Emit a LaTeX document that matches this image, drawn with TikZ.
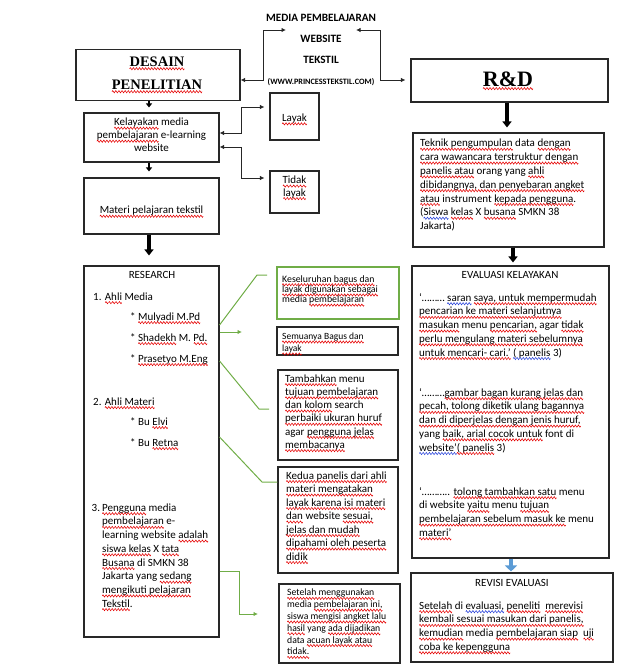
\documentclass[tikz,border=0pt]{standalone}
\usepackage{fontspec}
\setmainfont{Carlito}
\newfontfamily\decofont{Liberation Serif}
\usetikzlibrary{arrows.meta}

\definecolor{accgreen}{RGB}{112,173,71}
\definecolor{accblue}{RGB}{91,155,213}
\definecolor{boxline}{RGB}{40,40,40}

% spell-check style wavy underlines: the text, then a zigzag stroked under it
\newsavebox\wavebox
\newcommand\wavyunder[2]{\sbox\wavebox{#2}\leavevmode\rlap{\usebox\wavebox}%
  \hbox to \wd\wavebox{\xleaders\hbox to 3bp{\special{pdf:content q #1 RG 0.55 w 0 -2.4 m 0.75 -1.3 l 2.25 -3.5 l 3 -2.4 l S Q}\hss}\hfill}}
\newcommand\sq[1]{\wavyunder{0.9 0 0}{#1}}
\newcommand\bq[1]{\wavyunder{0.15 0.25 0.85}{#1}}

\tikzset{
  box/.style={draw=boxline, line width=1.1pt, inner sep=0pt, rectangle},
  gbox/.style={draw=accgreen, line width=1.1pt, inner sep=0pt, rectangle},
  txt/.style={inner sep=0pt, anchor=north west, align=left},
  ctext/.style={inner sep=0pt, align=center},
  conn/.style={draw=black!85, line width=0.9pt},
  dtip/.style={arrows={Latex[length=4.5pt,width=4.5pt]-Latex[length=4.5pt,width=4.5pt]}},
  smallarr/.style={draw=black, line width=1.8pt, -{Triangle[length=4pt,width=6pt]}},
  thickarr/.style={draw=black, line width=3.5pt, -{Triangle[length=6pt,width=9pt]}},
  bluearr/.style={draw=accblue, line width=4.5pt, -{Triangle[length=6pt,width=12pt]}},
  gline/.style={draw=accgreen, line width=1pt},
  gtip/.style={-{Latex[length=4.5pt,width=4.5pt]}}
}

\begin{document}
\begin{tikzpicture}[x=1pt,y=-1pt]
\useasboundingbox (0,0) rectangle (621,666);

% ---------- title ----------
\node[ctext, anchor=north, font=\fontsize{11.2}{21}\selectfont\bfseries] (title) at (321,6.2)
  {\strut MEDIA PEMBELAJARAN\\WEBSITE\\TEKSTIL\\{\fontsize{8.2}{9}\selectfont (WWW.PRINCESSTEKSTIL.COM)}};

% ---------- heading boxes ----------
\node[box, minimum width=164pt, minimum height=51pt] (desain) at (158,75) {};
\node[ctext, font=\decofont\bfseries\fontsize{14.5}{23}\selectfont] (desainT) at (157,73)
  {\sq{DESAIN}\\\sq{PENELITIAN}};
\node[box, minimum width=197pt, minimum height=43pt] (rd) at (509.5,80.5) {};
\node[ctext, font=\decofont\bfseries\fontsize{22}{26}\selectfont] (rdT) at (508,79) {\sq{R\&D}};

\coordinate (tipL) at (286,30);
\coordinate (tipR) at (356,30);
\draw[conn, dtip] (tipL) -| (263,80) -- (desain.east |- 0,80);
\draw[conn, dtip, shorten >=5pt] (tipR) -| (380,80) -- (rd.west |- 0,80);

% ---------- left column ----------
\node[box, minimum width=135pt, minimum height=49pt] (kel) at (151.5,137.5) {};
\node[ctext, font=\fontsize{11}{13}\selectfont] (kelT) at (151.5,135)
  {\sq{Kelayakan} media\\\sq{pembelajaran} e-learning\\website};

\node[box, minimum width=49pt, minimum height=47pt] (layak) at (294.5,116.5) {};
\node[ctext, font=\fontsize{11}{13}\selectfont] (layakT) at (294.5,118.5) {\sq{Layak}};
\node[box, minimum width=49pt, minimum height=42pt] (tidak) at (294.5,192) {};
\node[ctext, font=\fontsize{11}{12.5}\selectfont] (tidakT) at (294.5,187) {\sq{Tidak}\\\sq{layak}};

\draw[conn, dtip, shorten >=5pt] (kel.east |- 0,133) -| (241,107) -- (layak.west |- 0,107);
\draw[conn, dtip, shorten >=5pt] (kel.east |- 0,147) -| (241,178) -- (tidak.west |- 0,178);

\node[box, minimum width=135pt, minimum height=56pt] (materi) at (151.5,206) {};
\node[ctext, font=\fontsize{11}{13}\selectfont] (materiT) at (151.5,211) {\sq{Materi pelajaran tekstil}};

\draw[smallarr, shorten >=5pt] (desain.south -| 149,0) -- (kel.north -| 149,0);
\draw[smallarr, shorten >=6pt] (kel.south -| 149,0) -- (materi.north -| 149,0);

% research box
\node[box, minimum width=135pt, minimum height=371pt] (research) at (151.5,451.5) {};
\draw[thickarr, shorten >=10pt] (materi.south -| 149,0) -- (research.north -| 149,0);

\node[ctext, font=\fontsize{11}{13}\selectfont] (resT) at (152,275) {RESEARCH};
\node[txt, font=\fontsize{11}{13.6}\selectfont] (media1) at (93,290.5) {\strut 1. \sq{Ahli} Media};
\node[txt, font=\fontsize{11}{21}\selectfont] (media2) at (130,305.3)
  {\strut * \sq{Mulyadi M.Pd}\\* \sq{Shadekh} M. \sq{Pd.}\\* \sq{Prasetyo M.Eng}};
\node[txt, font=\fontsize{11}{13.6}\selectfont] (materi1) at (93,395.5) {\strut 2. \sq{Ahli Materi}};
\node[txt, font=\fontsize{11}{21}\selectfont] (materi2) at (130,410.3)
  {\strut * Bu \sq{Elvi}\\* Bu \sq{Retna}};
\node[txt, font=\fontsize{11}{13.7}\selectfont] (user1) at (91.5,501.5) {\strut 3.};
\node[txt, font=\fontsize{11}{13.7}\selectfont] (user2) at (102,501.5)
  {\strut\sq{Pengguna} media\\\sq{pembelajaran} e-\\learning website \sq{adalah}\\\sq{siswa kelas} X \sq{tata}\\
   \sq{Busana} di SMKN 38\\Jakarta yang \sq{sedang}\\\sq{mengikuti pelajaran}\\\sq{Tekstil}.};

% ---------- middle column ----------
\node[gbox, minimum width=122pt, minimum height=52pt] (kes) at (338,293) {};
\node[txt, font=\fontsize{9.8}{10.2}\selectfont] (kesT) at (282,275)
  {\strut\sq{Keseluruhan bagus dan}\\\sq{layak digunakan sebagai}\\media \sq{pembelajaran}};

\node[box, minimum width=121pt, minimum height=28pt] (semua) at (337.5,341) {};
\node[txt, font=\fontsize{9.5}{12}\selectfont] (semuaT) at (282,331)
  {\strut\sq{Semuanya Bagus dan}\\\sq{layak}};

\node[box, minimum width=120pt, minimum height=90pt] (tambah) at (338,415) {};
\node[txt, font=\fontsize{11}{13.2}\selectfont] (tambahT) at (285,372.8)
  {\strut\sq{Tambahkan} menu\\\sq{tujuan pembelajaran}\\\sq{dan kolom} search\\\sq{perbaiki ukuran huruf}\\agar \sq{pengguna jelas}\\\sq{membacanya}};

\node[box, minimum width=120pt, minimum height=106pt] (kedua) at (338,520) {};
\node[txt, font=\fontsize{11}{13.5}\selectfont] (keduaT) at (286,469.5)
  {\strut\sq{Kedua panelis dari ahli}\\\sq{materi mengatakan}\\\sq{layak karena isi materi}\\\sq{dan} website \sq{sesuai,}\\
   \sq{jelas dan mudah}\\\sq{dipahami oleh peserta}\\\sq{didik}};

\node[box, minimum width=121pt, minimum height=79pt] (setelah) at (339.5,623.5) {};
\node[txt, font=\fontsize{9.7}{11.8}\selectfont] (setelahT) at (287,587.5)
  {\strut\sq{Setelah menggunakan}\\media \sq{pembelajaran ini,}\\\sq{siswa mengisi angket lalu}\\\sq{hasil} yang \sq{ada dijadikan}\\
   data \sq{acuan layak atau}\\\sq{tidak.}};

% green links from the research box
\coordinate (g1end) at (267,275);
\coordinate (g2end) at (242,332);
\coordinate (g3end) at (269,409);
\coordinate (g5end) at (258,614);
\draw[gline] (research.east |- 0,325) -- (257,275) -- (g1end);
\draw[gline, gtip] (research.east |- 0,332) -- (g2end);
\draw[gline] (research.east |- 0,361) -- (259,409) -- (g3end);
\draw[gline] (research.east |- 0,437) -- (262,482) -- (kedua.west |- 0,482);
\draw[gline, gtip] (research.east |- 0,571) -| (239,614) -- (g5end);

% ---------- right column ----------
\node[box, minimum width=191pt, minimum height=114pt] (teknik) at (508.5,190) {};
\node[txt, font=\fontsize{11}{13.8}\selectfont] (teknikT) at (420,137)
  {\strut\sq{Teknik pengumpulan} data \sq{dengan}\\\sq{cara wawancara terstruktur dengan}\\\sq{panelis atau} orang yang \sq{ahli}\\
   \sq{dibidangnya, dan penyebaran angket}\\\sq{atau} instrument \sq{kepada pengguna}.\\(\bq{Siswa} \sq{kelas} X \sq{busana} SMKN 38\\Jakarta)};
\draw[thickarr, shorten >=5pt] (rd.south -| 507,0) -- (teknik.north -| 507,0);

\node[box, minimum width=197pt, minimum height=292pt] (eval) at (510.5,412) {};
\draw[thickarr, shorten >=3pt] (teknik.south -| 513,0) -- (eval.north -| 513,0);
\node[ctext, font=\fontsize{11}{13}\selectfont] (evalT) at (510,275) {EVALUASI KELAYAKAN};
\node[txt, font=\fontsize{11}{13.7}\selectfont] (eval1) at (419,291.5)
  {\strut‘……… \bq{saran} \sq{saya, untuk mempermudah}\\\sq{pencarian ke materi selanjutnya}\\\sq{masukan} menu \sq{pencarian,} agar \sq{tidak}\\
   \sq{perlu mengulang materi sebelumnya}\\\sq{untuk mencari- cari.’} \bq{( panelis} 3)};
\node[txt, font=\fontsize{11}{13.7}\selectfont] (eval2) at (419,386.5)
  {\strut‘………\sq{gambar bagan kurang jelas dan}\\\sq{pecah, tolong diketik ulang bagannya}\\\sq{dan di diperjelas dengan jenis huruf,}\\
   yang \sq{baik, arial cocok untuk} font di\\\bq{website’}\sq{( panelis} 3)};
\node[txt, font=\fontsize{11}{13.7}\selectfont] (eval3) at (419,485.5)
  {\strut‘……….. \sq{tolong tambahkan satu} menu\\di website \sq{yaitu} menu \sq{tujuan}\\\sq{pembelajaran sebelum masuk ke} menu\\\sq{materi’}};

\node[box, minimum width=202pt, minimum height=89pt] (revisi) at (512,617.5) {};
\draw[bluearr, shorten >=1pt] (eval.south -| 511,0) -- (revisi.north -| 511,0);
\node[ctext, font=\fontsize{11}{13}\selectfont] (revT) at (512,583) {REVISI EVALUASI};
\node[txt, font=\fontsize{11}{13.7}\selectfont] (revP) at (419,599.5)
  {\strut\sq{Setelah} di \bq{evaluasi,} \sq{peneliti} \ \sq{merevisi}\\\sq{kembali sesuai masukan dari panelis,}\\
   \sq{kemudian} media \sq{pembelajaran siap} \ \sq{uji}\\\sq{coba ke kepengguna}};

\end{tikzpicture}
\end{document}
